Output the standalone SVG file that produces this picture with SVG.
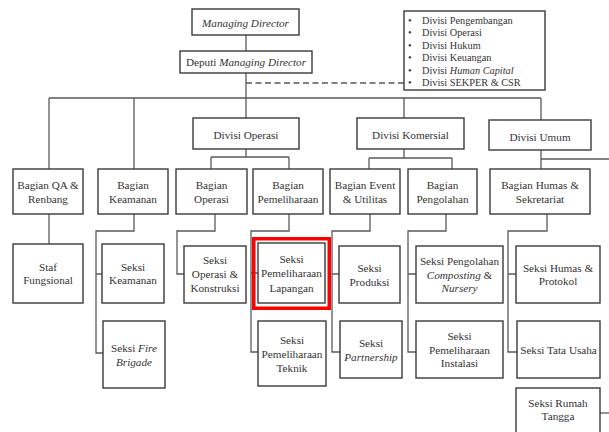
<svg xmlns="http://www.w3.org/2000/svg" width="609" height="432" viewBox="0 0 609 432" font-family="'Liberation Serif', 'DejaVu Serif', serif">
<style>
.b{fill:#fff;stroke:#3a3a3a;stroke-width:1.4}
.c{fill:none;stroke:#5a5a5a;stroke-width:1.3}
.d{fill:none;stroke:#5a5a5a;stroke-width:1.3;stroke-dasharray:6 3.5}
.hl{fill:none;stroke:#ff0000;stroke-width:3.5}
text{font-family:'Liberation Serif','DejaVu Serif',serif;font-size:11.2px;fill:#333;text-anchor:middle}
.bl{font-size:10.3px;text-anchor:start}
.i{font-style:italic}
</style>
<rect width="609" height="432" fill="#fff"/>
<g id="connectors">
<path class="c" d="M246 35V51M246 73V118"/>
<path class="d" d="M246 83H404"/>
<path class="c" d="M49 98H541M49 98V169M134 98V169M404 98V118M541 98V120"/>
<path class="c" d="M246 149V157M211 157H289M211 157V169M289 157V169"/>
<path class="c" d="M404 149V158M369 158H452M369 158V169M452 158V169"/>
<path class="c" d="M541 150V169M541 159H609"/>
<path class="c" d="M49 214V244"/>
<path class="c" d="M134 214V231H96V353H103M96 274H102"/>
<path class="c" d="M215 214V231H177V274H184"/>
<path class="c" d="M289 214V231H251V352H258M251 273H258"/>
<path class="c" d="M370 214V231H332V352H340M332 274H339"/>
<path class="c" d="M446 214V231H408V352H416M408 274H416"/>
<path class="c" d="M547 214V231H508V352H517M508 274H516"/>
<path class="c" d="M600 413H609"/>
</g>
<g id="md"><rect class="b" x="192" y="9" width="107" height="26"/><text x="245.5" y="27" class="i">Managing Director</text></g>
<g id="deputi"><rect class="b" x="180" y="51" width="132" height="22"/><text x="246" y="66">Deputi <tspan class="i">Managing Director</tspan></text></g>
<g id="divlist"><rect class="b" x="404" y="11" width="141" height="79"/>
<text class="bl" x="408" y="23.5">•</text><text class="bl" x="422" y="23.5">Divisi Pengembangan</text>
<text class="bl" x="408" y="36">•</text><text class="bl" x="422" y="36">Divisi Operasi</text>
<text class="bl" x="408" y="48.5">•</text><text class="bl" x="422" y="48.5">Divisi Hukum</text>
<text class="bl" x="408" y="61">•</text><text class="bl" x="422" y="61">Divisi Keuangan</text>
<text class="bl" x="408" y="73.5">•</text><text class="bl" x="422" y="73.5">Divisi <tspan class="i">Human Capital</tspan></text>
<text class="bl" x="408" y="86">•</text><text class="bl" x="422" y="86">Divisi SEKPER &amp; CSR</text>
</g>
<g id="divops"><rect class="b" x="193" y="118" width="106" height="31"/><text x="246" y="138.8">Divisi Operasi</text></g>
<g id="divkom"><rect class="b" x="357" y="118" width="107" height="31"/><text x="410.5" y="138.8">Divisi Komersial</text></g>
<g id="divumum"><rect class="b" x="489" y="120" width="102" height="30"/><text x="540" y="140.8">Divisi Umum</text></g>
<g id="bqa"><rect class="b" x="13" y="169" width="70" height="45"/><text x="48" y="188.8">Bagian QA &amp;</text><text x="48" y="202.8">Renbang</text></g>
<g id="bkeam"><rect class="b" x="98" y="169" width="70" height="45"/><text x="133" y="188.8">Bagian</text><text x="133" y="202.8">Keamanan</text></g>
<g id="bops"><rect class="b" x="176" y="169" width="71" height="45"/><text x="211.5" y="188.8">Bagian</text><text x="211.5" y="202.8">Operasi</text></g>
<g id="bpem"><rect class="b" x="253" y="169" width="70" height="45"/><text x="288" y="188.8">Bagian</text><text x="288" y="202.8">Pemeliharaan</text></g>
<g id="bevent"><rect class="b" x="330" y="169" width="70" height="45"/><text x="365" y="188.8">Bagian Event</text><text x="365" y="202.8">&amp; Utilitas</text></g>
<g id="bpeng"><rect class="b" x="408" y="169" width="69" height="45"/><text x="442.5" y="188.8">Bagian</text><text x="442.5" y="202.8">Pengolahan</text></g>
<g id="bhumas"><rect class="b" x="490" y="169" width="100" height="45"/><text x="540" y="188.8">Bagian Humas &amp;</text><text x="540" y="202.8">Sekretariat</text></g>
<g id="staf"><rect class="b" x="13" y="244" width="70" height="59"/><text x="48" y="270.8">Staf</text><text x="48" y="284">Fungsional</text></g>
<g id="skeam"><rect class="b" x="102" y="244" width="62" height="59"/><text x="133" y="270.8">Seksi</text><text x="133" y="284">Keamanan</text></g>
<g id="sops"><rect class="b" x="184" y="246" width="62" height="57"/><text x="215" y="263.8">Seksi</text><text x="215" y="277.8">Operasi &amp;</text><text x="215" y="291.8">Konstruksi</text></g>
<g id="slap"><rect class="b" x="258" y="243" width="67" height="60"/><text x="291.5" y="262.8">Seksi</text><text x="291.5" y="277.3">Pemeliharaan</text><text x="291.5" y="291.8">Lapangan</text><rect class="hl" x="253.75" y="238.75" width="75.5" height="69.5"/></g>
<g id="sprod"><rect class="b" x="339" y="246" width="61" height="57"/><text x="369.5" y="271.5">Seksi</text><text x="369.5" y="285.5">Produksi</text></g>
<g id="spengolahan"><rect class="b" x="416" y="246" width="87" height="57"/><text x="459.5" y="265">Seksi Pengolahan</text><text x="459.5" y="278.5"><tspan class="i">Composting</tspan> &amp;</text><text x="459.5" y="292" class="i">Nursery</text></g>
<g id="shumas"><rect class="b" x="516" y="246" width="84" height="57"/><text x="558" y="271.5">Seksi Humas &amp;</text><text x="558" y="285">Protokol</text></g>
<g id="sfire"><rect class="b" x="103" y="321" width="62" height="67"/><text x="134" y="351.5">Seksi <tspan class="i">Fire</tspan></text><text x="134" y="365.5" class="i">Brigade</text></g>
<g id="steknik"><rect class="b" x="258" y="321" width="68" height="65"/><text x="292" y="343.8">Seksi</text><text x="292" y="357.8">Pemeliharaan</text><text x="292" y="371.8">Teknik</text></g>
<g id="spartner"><rect class="b" x="340" y="321" width="62" height="57"/><text x="371" y="346.8">Seksi</text><text x="371" y="360.8" class="i">Partnership</text></g>
<g id="sinstalasi"><rect class="b" x="416" y="321" width="87" height="57"/><text x="459.5" y="340">Seksi</text><text x="459.5" y="353.5">Pemeliharaan</text><text x="459.5" y="367">Instalasi</text></g>
<g id="stata"><rect class="b" x="517" y="321" width="83" height="57"/><text x="558.5" y="353.8">Seksi Tata Usaha</text></g>
<g id="srumah"><rect class="b" x="516" y="388" width="84" height="50"/><text x="558" y="406.5">Seksi Rumah</text><text x="558" y="420">Tangga</text></g>
</svg>
